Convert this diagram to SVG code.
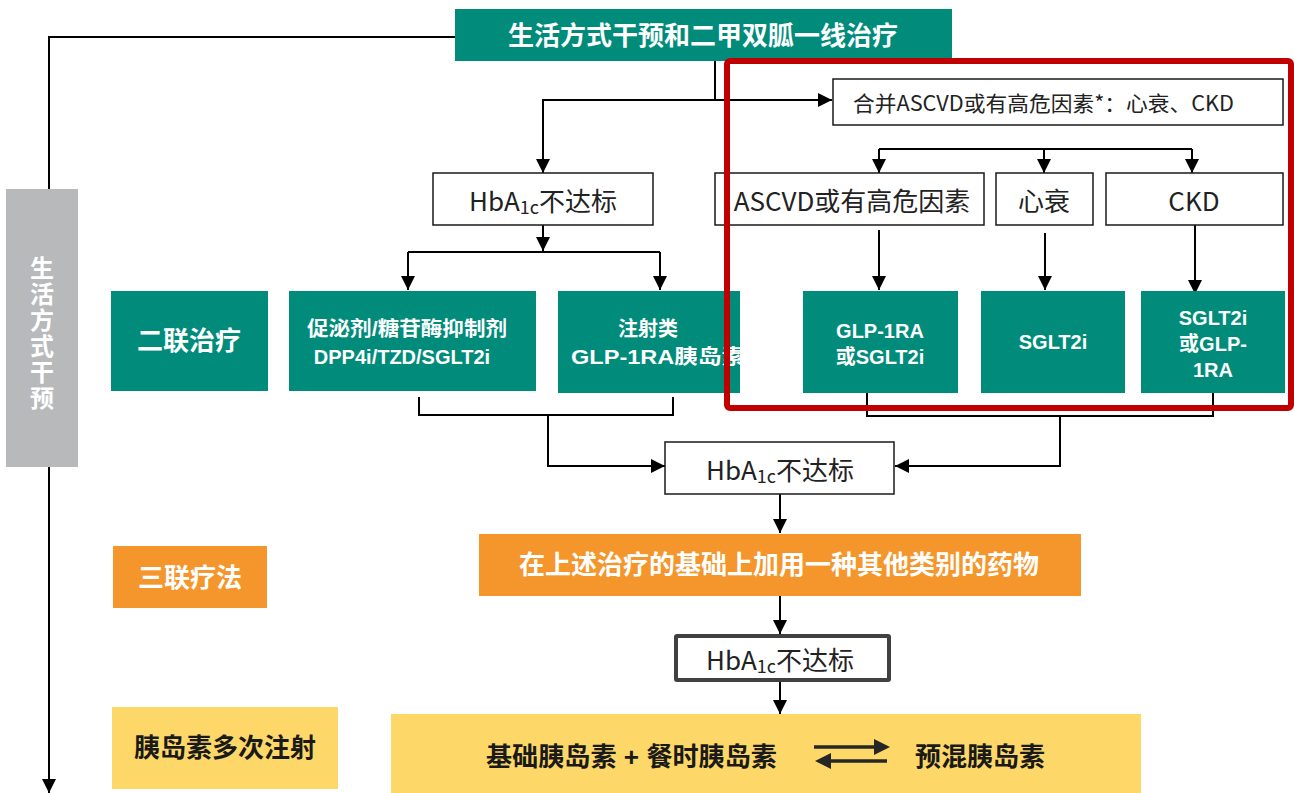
<svg xmlns="http://www.w3.org/2000/svg" width="1294" height="793" viewBox="0 0 1294 793">
<defs>
<style>
.teal{fill:#008b7a}
.orange{fill:#f5962c}
.yellow{fill:#fdd868}
.gray{fill:#b8b9bb}
.wbox{fill:#ffffff;stroke:#1a1a1a;stroke-width:1.5}
.conn{fill:none;stroke:#000;stroke-width:2}
.wt{fill:#ffffff;font-family:"Liberation Sans","Noto Sans CJK SC",sans-serif;font-weight:bold;dominant-baseline:central;text-anchor:middle}
.bt{fill:#222;font-family:"Noto Sans CJK SC","Liberation Sans",sans-serif;dominant-baseline:central;text-anchor:middle}
.kt{fill:#1a1a1a;font-family:"Liberation Sans","Noto Sans CJK SC",sans-serif;font-weight:bold;dominant-baseline:central}
</style>
<marker id="ah" viewBox="0 0 14 14" refX="14" refY="7" markerWidth="14" markerHeight="14" markerUnits="userSpaceOnUse" orient="auto">
<path d="M0,0 L14,7 L0,14 z" fill="#000"/>
</marker>
</defs>

<g id="connectors">
<path class="conn" d="M456,37 H49 V793" marker-end="url(#ah)"/>
<path class="conn" d="M715,61 V100"/>
<path class="conn" d="M715,100 H543 V173" marker-end="url(#ah)"/>
<path class="conn" d="M715,100 H832" marker-end="url(#ah)"/>
<path class="conn" d="M879,149 H1192"/>
<path class="conn" d="M879,149 V173" marker-end="url(#ah)"/>
<path class="conn" d="M1044,149 V173" marker-end="url(#ah)"/>
<path class="conn" d="M1192,149 V173" marker-end="url(#ah)"/>
<path class="conn" d="M543,225 V251" marker-end="url(#ah)"/>
<path class="conn" d="M408,252 H660"/>
<path class="conn" d="M408,252 V290" marker-end="url(#ah)"/>
<path class="conn" d="M660,252 V290" marker-end="url(#ah)"/>
<path class="conn" d="M879,230 V290" marker-end="url(#ah)"/>
<path class="conn" d="M1045,233 V290" marker-end="url(#ah)"/>
<path class="conn" d="M1195,225 V294" marker-end="url(#ah)"/>
<path class="conn" d="M419,397 V415 H673 V397"/>
<path class="conn" d="M548,415 V466 H665" marker-end="url(#ah)"/>
<path class="conn" d="M867,393 V416 H1213 V393"/>
<path class="conn" d="M1060,416 V466 H895" marker-end="url(#ah)"/>
<path class="conn" d="M780,494 V533" marker-end="url(#ah)"/>
<path class="conn" d="M780,596 V634" marker-end="url(#ah)"/>
<path class="conn" d="M780,682 V714" marker-end="url(#ah)"/>
</g>

<g id="title">
<rect class="teal" x="455" y="9" width="497" height="52"/>
<text class="wt" x="703" y="36" font-size="26">生活方式干预和二甲双胍一线治疗</text>
</g>

<g id="lifestyle">
<rect class="gray" x="6" y="189" width="72" height="278"/>
<text class="wt" x="42" font-size="24"><tspan x="42" y="268">生</tspan><tspan x="42" y="294">活</tspan><tspan x="42" y="320">方</tspan><tspan x="42" y="346">式</tspan><tspan x="42" y="372">干</tspan><tspan x="42" y="398">预</tspan></text>
</g>

<g id="hba1c-1">
<rect class="wbox" x="433" y="173" width="220" height="52"/>
<text class="bt" x="543" y="199" font-size="26">HbA<tspan font-size="18" dy="7">1c</tspan><tspan dy="-7">不达标</tspan></text>
</g>

<g id="comorbid">
<rect class="wbox" x="833" y="79" width="450" height="46"/>
<text class="bt" x="853" y="102" font-size="21" style="text-anchor:start" textLength="381" lengthAdjust="spacingAndGlyphs">合并ASCVD或有高危因素*：心衰、CKD</text>
</g>

<g id="ascvd">
<rect class="wbox" x="715" y="173" width="269" height="52"/>
<text class="bt" x="852" y="199" font-size="26">ASCVD或有高危因素</text>
</g>

<g id="hf">
<rect class="wbox" x="996" y="173" width="97" height="52"/>
<text class="bt" x="1044" y="199" font-size="26">心衰</text>
</g>

<g id="ckd">
<rect class="wbox" x="1106" y="173" width="177" height="52"/>
<text class="bt" x="1194" y="199" font-size="26">CKD</text>
</g>

<g id="dual-label">
<rect class="teal" x="111" y="291" width="157" height="100"/>
<text class="wt" x="189" y="341" font-size="26">二联治疗</text>
</g>

<g id="oral">
<rect class="teal" x="289" y="291" width="247" height="100"/>
<text class="wt" x="407" y="329" font-size="20" textLength="200" lengthAdjust="spacingAndGlyphs">促泌剂/糖苷酶抑制剂</text>
<text class="wt" x="402" y="357" font-size="20">DPP4i/TZD/SGLT2i</text>
</g>

<g id="injection">
<rect class="teal" x="558" y="291" width="182" height="102"/>
<text class="wt" x="648" y="329" font-size="20">注射类</text>
<text class="wt" x="571" y="357" font-size="20" style="text-anchor:start" textLength="174" lengthAdjust="spacingAndGlyphs">GLP-1RA胰岛素</text>
</g>

<g id="glp1">
<rect class="teal" x="803" y="291" width="155" height="102"/>
<text class="wt" x="880" y="331" font-size="20">GLP-1RA</text>
<text class="wt" x="880" y="357" font-size="20">或SGLT2i</text>
</g>

<g id="sglt2">
<rect class="teal" x="981" y="291" width="144" height="102"/>
<text class="wt" x="1053" y="342" font-size="20">SGLT2i</text>
</g>

<g id="sglt2-glp1">
<rect class="teal" x="1141" y="291" width="144" height="102"/>
<text class="wt" x="1213" y="318" font-size="20">SGLT2i</text>
<text class="wt" x="1213" y="344" font-size="20">或GLP-</text>
<text class="wt" x="1213" y="370" font-size="20">1RA</text>
</g>

<g id="hba1c-2">
<rect class="wbox" x="665" y="442" width="229" height="52"/>
<text class="bt" x="780" y="468" font-size="26">HbA<tspan font-size="18" dy="7">1c</tspan><tspan dy="-7">不达标</tspan></text>
</g>

<g id="triple-label">
<rect class="orange" x="113" y="546" width="154" height="62"/>
<text class="wt" x="190" y="578" font-size="26">三联疗法</text>
</g>

<g id="triple">
<rect class="orange" x="479" y="534" width="602" height="62"/>
<text class="wt" x="779" y="565" font-size="26">在上述治疗的基础上加用一种其他类别的药物</text>
</g>

<g id="hba1c-3">
<rect x="676" y="636" width="213" height="44" fill="#fff" stroke="#404040" stroke-width="4" rx="1"/>
<text class="bt" x="780" y="658" font-size="26">HbA<tspan font-size="18" dy="7">1c</tspan><tspan dy="-7">不达标</tspan></text>
</g>

<g id="insulin-label">
<rect class="yellow" x="112" y="707" width="226" height="82"/>
<text class="kt" x="225" y="748" font-size="26" text-anchor="middle">胰岛素多次注射</text>
</g>

<g id="insulin">
<rect class="yellow" x="391" y="714" width="750" height="79"/>
<text class="kt" x="486" y="757" font-size="26" fill="#262626" textLength="291" lengthAdjust="spacingAndGlyphs">基础胰岛素 + 餐时胰岛素</text>
<path d="M814,747 H876" stroke="#262626" stroke-width="3.5" fill="none"/>
<path d="M874,739 L890,747 L874,755 z" fill="#262626"/>
<path d="M887,761 H829" stroke="#262626" stroke-width="3.5" fill="none"/>
<path d="M831,753 L815,761 L831,769 z" fill="#262626"/>
<text class="kt" x="915" y="757" font-size="26" fill="#262626">预混胰岛素</text>
</g>

<g id="highlight">
<rect x="727" y="61" width="564" height="347" rx="3" fill="none" stroke="#c00000" stroke-width="6"/>
</g>
</svg>
